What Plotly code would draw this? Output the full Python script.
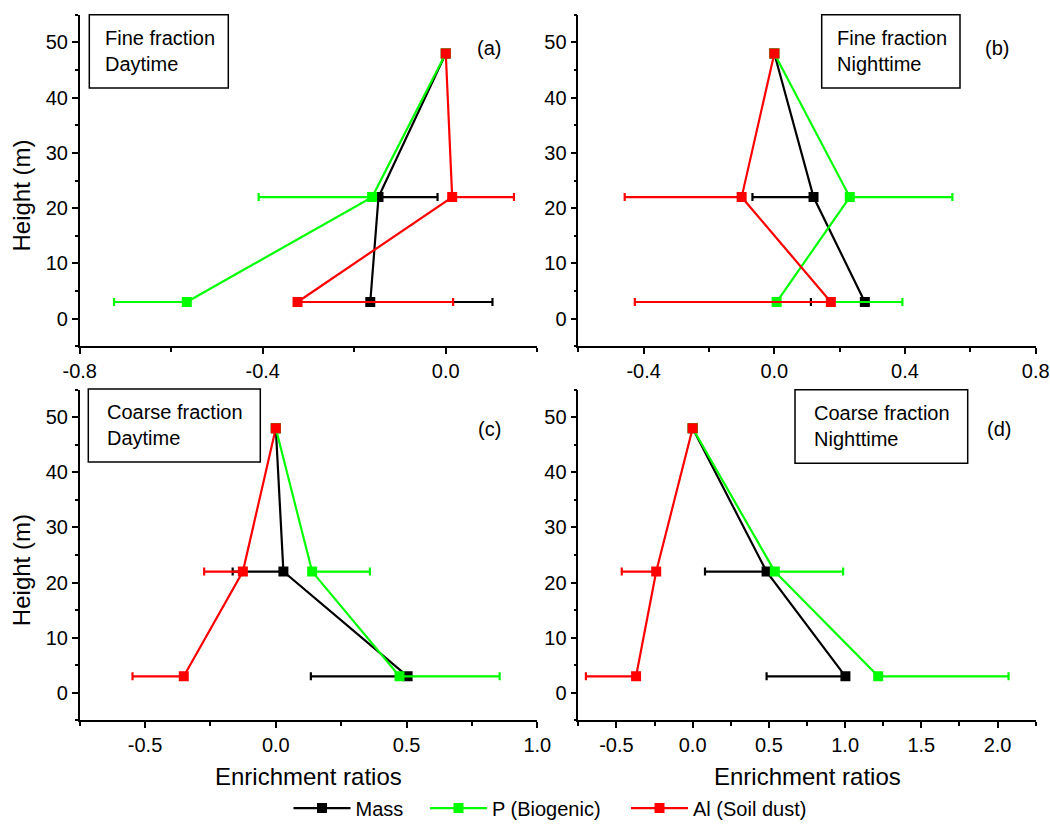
import plotly.graph_objects as go

W, H = 1050, 828

# ---------------- data ----------------
heights = [3, 22, 48]

# panel (a) fine fraction daytime
mass_a = [-0.165, -0.147, 0.0]
mass_a_plus = [0.267, 0.129, 0.0]
mass_a_minus = [0.0, 0.0, 0.0]
p_a = [-0.566, -0.161, 0.0]
p_a_plus = [0.0, 0.0, 0.0]
p_a_minus = [0.159, 0.248, 0.0]
al_a = [-0.324, 0.014, 0.0]
al_a_plus = [0.340, 0.135, 0.0]
al_a_minus = [0.0, 0.0, 0.0]

# panel (b) fine fraction nighttime
mass_b = [0.277, 0.120, 0.0]
mass_b_plus = [0.0, 0.0, 0.0]
mass_b_minus = [0.165, 0.187, 0.0]
p_b = [0.007, 0.231, 0.0]
p_b_plus = [0.385, 0.314, 0.0]
p_b_minus = [0.0, 0.0, 0.0]
al_b = [0.173, -0.100, 0.0]
al_b_plus = [0.0, 0.0, 0.0]
al_b_minus = [0.600, 0.358, 0.0]

# panel (c) coarse fraction daytime
mass_c = [0.504, 0.029, 0.0]
mass_c_plus = [0.0, 0.0, 0.0]
mass_c_minus = [0.370, 0.194, 0.0]
p_c = [0.473, 0.139, 0.0]
p_c_plus = [0.383, 0.221, 0.0]
p_c_minus = [0.0, 0.0, 0.0]
al_c = [-0.352, -0.126, 0.0]
al_c_plus = [0.0, 0.0, 0.0]
al_c_minus = [0.196, 0.148, 0.0]

# panel (d) coarse fraction nighttime
mass_d = [1.002, 0.485, 0.0]
mass_d_plus = [0.0, 0.0, 0.0]
mass_d_minus = [0.517, 0.404, 0.0]
p_d = [1.217, 0.539, 0.0]
p_d_plus = [0.855, 0.448, 0.0]
p_d_minus = [0.0, 0.0, 0.0]
al_d = [-0.371, -0.239, 0.0]
al_d_plus = [0.0, 0.0, 0.0]
al_d_minus = [0.329, 0.226, 0.0]

series_names = ["Mass", "P (Biogenic)", "Al (Soil dust)"]
series_colors = ["#000000", "#00FF00", "#FF0000"]

panel_labels = ["(a)", "(b)", "(c)", "(d)"]
box_texts = ["Fine fraction<br>Daytime", "Fine fraction<br>Nighttime",
             "Coarse fraction<br>Daytime", "Coarse fraction<br>Nighttime"]

# tick labels (major) and minor tick steps
xa_vals = [-0.8, -0.4, 0.0]
xa_text = ["-0.8", "-0.4", "0.0"]
xb_vals = [-0.4, 0.0, 0.4, 0.8]
xb_text = ["-0.4", "0.0", "0.4", "0.8"]
xc_vals = [-0.5, 0.0, 0.5, 1.0]
xc_text = ["-0.5", "0.0", "0.5", "1.0"]
xd_vals = [-0.5, 0.0, 0.5, 1.0, 1.5, 2.0]
xd_text = ["-0.5", "0.0", "0.5", "1.0", "1.5", "2.0"]
y_vals = [0, 10, 20, 30, 40, 50]
y_text = ["0", "10", "20", "30", "40", "50"]

# ---------------- layout helpers (pixel -> paper) ----------------
def px(x):
    return x / W

def py(y):
    return 1 - y / H

FONT = "Liberation Sans, Arial, sans-serif"

panels = [
    ("x", "y", [(mass_a, mass_a_plus, mass_a_minus), (p_a, p_a_plus, p_a_minus), (al_a, al_a_plus, al_a_minus)],
     [-0.8, 0.2], xa_vals, xa_text, (-0.8, 0.2), (79.7, 537.3, 15, 350)),
    ("x2", "y2", [(mass_b, mass_b_plus, mass_b_minus), (p_b, p_b_plus, p_b_minus), (al_b, al_b_plus, al_b_minus)],
     [-0.6, 0.8], xb_vals, xb_text, (-0.8, 0.2), (578.3, 1035.7, 15, 350)),
    ("x3", "y3", [(mass_c, mass_c_plus, mass_c_minus), (p_c, p_c_plus, p_c_minus), (al_c, al_c_plus, al_c_minus)],
     [-0.75, 1.0], xc_vals, xc_text, (-0.75, 0.25), (79.7, 537.3, 394, 728.3)),
    ("x4", "y4", [(mass_d, mass_d_plus, mass_d_minus), (p_d, p_d_plus, p_d_minus), (al_d, al_d_plus, al_d_minus)],
     [-0.75, 2.25], xd_vals, xd_text, (-0.75, 0.25), (578.3, 1035.7, 394, 728.3)),
]

legend_names = ["legend", "legend2", "legend3"]
legend_x = [288.5, 425, 626]

fig = go.Figure()
layout = dict(
    width=W, height=H,
    margin=dict(l=0, r=0, t=0, b=0),
    paper_bgcolor="white", plot_bgcolor="white",
    font=dict(family=FONT, size=20, color="black"),
    showlegend=True,
)
for li, ln in enumerate(legend_names):
    layout[ln] = dict(orientation="h", x=px(legend_x[li]), xanchor="left", y=py(817), yanchor="middle",
                      font=dict(size=20, family=FONT, color="black"), bgcolor="rgba(0,0,0,0)",
                      itemwidth=57, borderwidth=0)

for pi, (xid, yid, data, xr, tv, tt, (mt0, mdt), box) in enumerate(panels):
    x0, x1, y0, y1 = box
    for si, (vals, plus, minus) in enumerate(data):
        fig.add_trace(go.Scatter(
            x=vals, y=heights, xaxis=xid, yaxis=yid,
            mode="lines+markers",
            name=series_names[si],
            showlegend=(pi == 0),
            legend=legend_names[si],
            line=dict(color=series_colors[si], width=2.2),
            marker=dict(symbol="square", size=10, color=series_colors[si]),
            error_x=dict(type="data", symmetric=False, array=plus, arrayminus=minus,
                         color=series_colors[si], thickness=2.2, width=4),
        ))
    xkey = "xaxis" if xid == "x" else "xaxis" + xid[1:]
    ykey = "yaxis" if yid == "y" else "yaxis" + yid[1:]
    layout[xkey] = dict(
        domain=[px(x0), px(x1)], anchor=yid, range=xr, automargin=False,
        showline=True, linecolor="black", linewidth=1.5, mirror=False,
        showgrid=False, zeroline=False,
        tickmode="array", tickvals=tv, ticktext=tt,
        ticks="outside", ticklen=6, tickwidth=1.5, tickcolor="black",
        minor=dict(tickmode="linear", tick0=mt0, dtick=mdt, ticks="outside", ticklen=4,
                   tickwidth=1.5, tickcolor="black", showgrid=False),
        tickfont=dict(size=20, family=FONT, color="black"),
    )
    layout[ykey] = dict(
        domain=[py(y1), py(y0)], anchor=xid, range=[-5, 55], automargin=False,
        showline=True, linecolor="black", linewidth=1.5, mirror=False,
        showgrid=False, zeroline=False,
        tickmode="array", tickvals=y_vals, ticktext=y_text,
        ticks="outside", ticklen=6, tickwidth=1.5, tickcolor="black",
        minor=dict(tickmode="linear", tick0=5, dtick=10, ticks="outside", ticklen=3,
                   tickwidth=1.5, tickcolor="black", showgrid=False),
        tickfont=dict(size=20, family=FONT, color="black"),
    )

fig.update_layout(**layout)

# text boxes
boxes = [(89.3, 15, 228.3, 89, 103.3), (821.7, 15, 960, 89, 835),
         (88.3, 393.3, 260.3, 467, 105), (795, 394, 967.7, 468.3, 812.3)]
shapes = []
annotations = []
for i, (bx0, by0, bx1, by1, tx) in enumerate(boxes):
    shapes.append(dict(type="rect", xref="paper", yref="paper",
                       x0=px(bx0), x1=px(bx1), y0=py(by1), y1=py(by0),
                       line=dict(color="black", width=1.5), fillcolor="white", layer="above"))
    annotations.append(dict(xref="paper", yref="paper", x=px(tx), y=py((by0 + by1) / 2),
                            xanchor="left", yanchor="middle", align="left", showarrow=False,
                            text=box_texts[i], font=dict(size=20, family=FONT, color="black")))

label_pos = [(489, 49), (997, 49), (489, 433.5), (999, 434)]
for i, (lx, ly) in enumerate(label_pos):
    annotations.append(dict(xref="paper", yref="paper", x=px(lx), y=py(ly),
                            xanchor="center", yanchor="middle", showarrow=False,
                            text=panel_labels[i], font=dict(size=20, family=FONT, color="black")))

for ty in [198, 576.7]:
    annotations.append(dict(xref="paper", yref="paper", x=px(21.7), y=py(ty),
                            xanchor="center", yanchor="middle", showarrow=False, textangle=-90,
                            text="Height (m)", font=dict(size=24, family=FONT, color="black")))
for tx in [308, 807]:
    annotations.append(dict(xref="paper", yref="paper", x=px(tx), y=py(785),
                            xanchor="center", yanchor="middle", showarrow=False,
                            text="Enrichment ratios", font=dict(size=24, family=FONT, color="black")))

fig.update_layout(shapes=shapes, annotations=annotations)
fig.write_html("out.html")
